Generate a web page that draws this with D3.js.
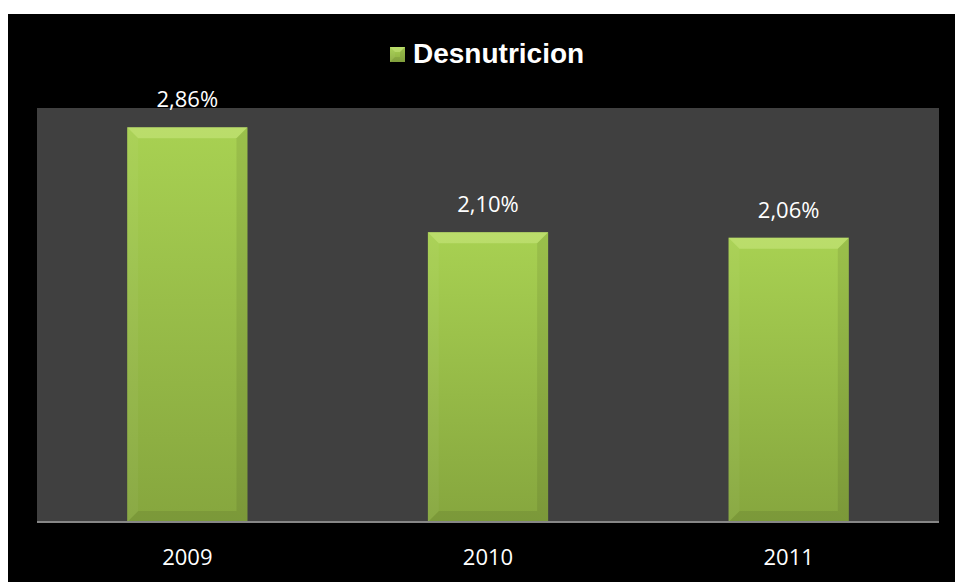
<!DOCTYPE html>
<html><head><meta charset="utf-8">
<script src="https://cdn.jsdelivr.net/npm/d3@7"></script>
<style>html,body{margin:0;padding:0;background:#fff;}svg{display:block;}</style>
</head><body>
<svg id="c" width="955" height="582"></svg>
<script>
const categories = ["2009", "2010", "2011"];
const values = [2.86, 2.10, 2.06];
const valueLabels = ["2,86%", "2,10%", "2,06%"];
const seriesName = "Desnutricion";

const svg = d3.select("#c");
const W = 955, H = 582;
const plot = {x0: 37, x1: 939, y0: 108, y1: 522};

const defs = svg.append("defs");
const g1 = defs.append("linearGradient").attr("id","face").attr("x1",0).attr("y1",0).attr("x2",0).attr("y2",1);
g1.append("stop").attr("offset","0%").attr("stop-color","#a8d152");
g1.append("stop").attr("offset","100%").attr("stop-color","#86a63e");
const g2 = defs.append("linearGradient").attr("id","lface").attr("x1",0).attr("y1",0).attr("x2",0).attr("y2",1);
g2.append("stop").attr("offset","0%").attr("stop-color","#a8d152");
g2.append("stop").attr("offset","100%").attr("stop-color","#8cad42");

svg.append("rect").attr("x",8).attr("y",14).attr("width",W-8).attr("height",H-14).attr("fill","#000");
svg.append("rect").attr("x",plot.x0).attr("y",plot.y0).attr("width",plot.x1-plot.x0).attr("height",plot.y1-plot.y0).attr("fill","#404040");

const x = d3.scaleBand().domain(categories).range([plot.x0, plot.x1]).paddingInner(0.6).paddingOuter(0.3);
const y = d3.scaleLinear().domain([0, 3]).range([plot.y1, plot.y0]);

const b = 11;
function bevelBar(sel, x0, y0, w, h, grad) {
  const x1 = x0 + w, y1 = y0 + h;
  const bb = Math.min(b, w/3, h/3);
  sel.append("rect").attr("x",x0).attr("y",y0).attr("width",w).attr("height",h).attr("fill",`url(#${grad})`);
  sel.append("polygon").attr("points",[[x0,y0],[x1,y0],[x1-bb,y0+bb],[x0+bb,y0+bb]].join(" ")).attr("fill","#d8f090").attr("opacity",0.4);
  sel.append("polygon").attr("points",[[x0,y0],[x0+bb,y0+bb],[x0+bb,y1-bb],[x0,y1]].join(" ")).attr("fill","#fff").attr("opacity",0.04);
  sel.append("polygon").attr("points",[[x1,y0],[x1,y1],[x1-bb,y1-bb],[x1-bb,y0+bb]].join(" ")).attr("fill","#000").attr("opacity",0.08);
  sel.append("polygon").attr("points",[[x0,y1],[x0+bb,y1-bb],[x1-bb,y1-bb],[x1,y1]].join(" ")).attr("fill","#000").attr("opacity",0.08);
}

categories.forEach((c, i) => {
  const g = svg.append("g");
  bevelBar(g, x(c), y(values[i]), x.bandwidth(), y(0) - y(values[i]), "face");
  svg.append("text").attr("x", x(c) + x.bandwidth()/2).attr("y", y(values[i]) - 20)
    .attr("text-anchor","middle").attr("fill","#fff")
    .style("font-family","'Open Sans', sans-serif").style("font-size","22px").text(valueLabels[i]);
});

// axis line
svg.append("line").attr("x1",plot.x0).attr("x2",plot.x1).attr("y1",plot.y1).attr("y2",plot.y1)
  .attr("stroke","#868686").attr("stroke-width",2);

const xAxis = svg.append("g").attr("transform",`translate(0,${plot.y1})`)
  .call(d3.axisBottom(x).tickSize(0).tickPadding(27));
xAxis.select(".domain").remove();
xAxis.selectAll("text").attr("fill","#fff").style("font-family","'Open Sans', sans-serif").style("font-size","22px");

// legend
const lg = svg.append("g");
bevelBar(lg, 390, 47, 15, 15, "lface");
lg.append("text").attr("x",413).attr("y",63).attr("fill","#fff")
  .style("font-family","'Liberation Sans', Arial, sans-serif").style("font-weight","bold").style("font-size","28px").text(seriesName);
</script>
</body></html>
